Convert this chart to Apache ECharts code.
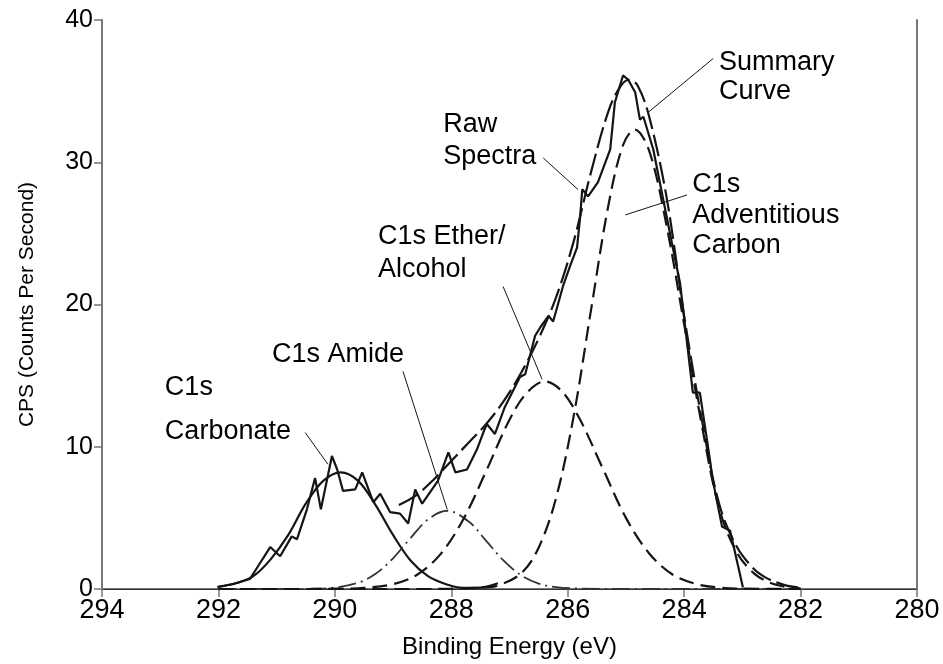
<!DOCTYPE html>
<html>
<head>
<meta charset="utf-8">
<script src="https://cdn.jsdelivr.net/npm/echarts@6/dist/echarts.min.js"></script>
<style>
  html, body { margin: 0; padding: 0; background: #fff; }
  #chart { width: 943px; height: 664px; }
</style>
</head>
<body>
<div id="chart"></div>
<script>
// Axis ranges (binding energy runs high -> low)
const xMin = 280, xMax = 294, xStep = 2;
const yMin = 0, yMax = 40, yStep = 10;

// Raw spectrum
const rawX = [292.02, 291.75, 291.46, 291.32, 291.11, 290.94, 290.74, 290.65, 290.48, 290.34, 290.24, 290.05, 289.96, 289.86, 289.65, 289.53, 289.34, 289.22, 289.05, 288.88, 288.74, 288.62, 288.5, 288.23, 288.05, 287.93, 287.73, 287.56, 287.45, 287.39, 287.25, 287.08, 286.82, 286.73, 286.56, 286.47, 286.33, 286.25, 286.08, 285.96, 285.84, 285.79, 285.75, 285.65, 285.48, 285.27, 285.19, 285.05, 284.96, 284.84, 284.76, 284.7, 284.53, 284.36, 284.19, 284.07, 283.85, 283.73, 283.55, 283.52, 283.35, 283.21, 282.99];
const rawY = [0.14, 0.35, 0.7, 1.6, 2.95, 2.3, 3.7, 3.5, 5.6, 7.8, 5.6, 9.35, 8.4, 6.9, 7.0, 8.2, 6.1, 6.7, 5.4, 5.3, 4.6, 7.0, 6.0, 7.6, 9.6, 8.2, 8.4, 9.8, 11.0, 11.6, 10.9, 12.8, 14.9, 15.1, 17.8, 18.4, 19.2, 18.8, 21.3, 22.7, 24.0, 26.0, 28.1, 27.6, 28.6, 30.9, 34.2, 36.1, 35.8, 34.9, 33.0, 33.2, 30.9, 27.4, 23.9, 21.5, 13.8, 13.8, 8.9, 7.9, 4.4, 4.1, 0.1];

// Summary (fitted envelope)
const sumX = [288.9, 288.6, 288.3, 288.0, 287.7, 287.4, 287.1, 286.8, 286.5, 286.2, 285.9, 285.6, 285.3, 285.1, 284.95, 284.8, 284.6, 284.3, 284.0, 283.7, 283.4, 283.1, 282.8, 282.6, 282.4, 282.2, 282.0];
const sumY = [5.9, 6.6, 7.7, 9.0, 10.3, 11.6, 13.2, 15.2, 17.6, 20.5, 24.4, 29.3, 33.6, 35.3, 35.8, 35.4, 33.2, 27.5, 19.2, 12.0, 6.0, 3.0, 1.4, 0.8, 0.45, 0.2, 0.1];

// C1s Carbonate component
const carbX = [292.0, 291.7, 291.4, 291.1, 290.8, 290.5, 290.2, 289.9, 289.6, 289.3, 289.0, 288.7, 288.4, 288.1, 287.8, 287.5, 287.2];
const carbY = [0.15, 0.4, 0.9, 2.1, 3.8, 6.0, 7.6, 8.2, 7.6, 5.9, 3.8, 2.0, 0.9, 0.35, 0.08, 0.1, 0.4];

// C1s Amide component
const amideX = [292.0, 291.0, 290.4, 290.0, 289.6, 289.3, 289.0, 288.7, 288.4, 288.07, 287.7, 287.4, 287.1, 286.8, 286.5, 286.2, 285.8, 285.0, 282.0];
const amideY = [0, 0, 0.02, 0.1, 0.44, 1.07, 2.16, 3.58, 4.89, 5.5, 4.74, 3.38, 1.99, 0.96, 0.38, 0.13, 0.03, 0, 0];

// C1s Ether/Alcohol component
const etherX = [292.0, 290.5, 290.0, 289.5, 289.0, 288.6, 288.2, 287.8, 287.4, 287.0, 286.7, 286.39, 286.1, 285.8, 285.4, 285.0, 284.6, 284.2, 283.8, 283.4, 283.0, 282.0];
const etherY = [0, 0, 0.02, 0.08, 0.34, 0.97, 2.38, 4.85, 8.3, 11.9, 13.8, 14.6, 13.9, 12.0, 8.5, 5.0, 2.5, 1.02, 0.36, 0.1, 0.03, 0];

// C1s Adventitious Carbon component
const advX = [292.0, 290.0, 288.5, 288.0, 287.5, 287.2, 286.8, 286.5, 286.2, 285.9, 285.6, 285.3, 285.05, 284.85, 284.6, 284.3, 284.0, 283.7, 283.4, 283.1, 282.8, 282.5, 282.2, 282.0];
const advY = [0, 0, 0, 0.02, 0.1, 0.25, 1.1, 2.9, 6.4, 12.1, 19.6, 27.0, 31.2, 32.3, 30.8, 25.5, 18.6, 11.6, 5.7, 2.6, 1.1, 0.4, 0.12, 0.05];

// Callout text lines: [left x, middle y, text]
const noteX = [292.92, 292.92, 291.08, 289.26, 289.26, 288.14, 288.14, 283.40, 283.40, 283.86, 283.86, 283.86];
const noteY = [14.18, 11.09, 16.49, 24.77, 22.46, 32.63, 30.39, 36.98, 34.95, 28.42, 26.25, 24.14];
const noteText = ['C1s', 'Carbonate', 'C1s Amide', 'C1s Ether/', 'Alcohol', 'Raw', 'Spectra', 'Summary', 'Curve', 'C1s', 'Adventitious', 'Carbon'];

// Leader lines from callouts to curves: [x1, y1, x2, y2]
const leaderX1 = [290.51, 288.83, 287.11, 286.42, 283.50, 283.95];
const leaderY1 = [11.0, 15.3, 21.26, 30.3, 37.3, 27.7];
const leaderX2 = [290.12, 288.07, 286.44, 285.82, 284.62, 285.01];
const leaderY2 = [8.77, 5.6, 14.74, 28.07, 33.5, 26.3];

const ink = '#151515';
const textInk = '#000';
const axisGray = '#777';
const sans = "'Liberation Sans', Arial, sans-serif";
const narrow = "'Liberation Sans Narrow', 'Arial Narrow', 'Liberation Sans', sans-serif";

const pairs = (xs, ys) => xs.map((x, i) => [x, ys[i]]);

function curve(name, xs, ys, dash, width, smooth, color) {
  return {
    name: name,
    type: 'line',
    data: pairs(xs, ys),
    showSymbol: false,
    smooth: smooth,
    silent: true,
    lineStyle: { color: color || ink, width: width, type: dash }
  };
}

const series = [
  curve('C1s Carbonate', carbX, carbY, 'solid', 2.2, 0.35),
  curve('C1s Amide', amideX, amideY, [18, 5, 2, 5], 1.8, 0.35, '#333'),
  curve('C1s Ether/Alcohol', etherX, etherY, [15, 7], 2.2, 0.35),
  curve('C1s Adventitious Carbon', advX, advY, [15, 7], 2.2, 0.35),
  curve('Summary Curve', sumX, sumY, [22, 6], 2.2, 0.35),
  curve('Raw Spectra', rawX, rawY, 'solid', 2.2, false)
];

leaderX1.forEach((x, i) => {
  series.push({
    type: 'line',
    data: [[x, leaderY1[i]], [leaderX2[i], leaderY2[i]]],
    showSymbol: false,
    silent: true,
    lineStyle: { color: ink, width: 1 }
  });
});

// Callout text, placed in data coordinates
series.push({
  type: 'scatter',
  symbolSize: 0,
  silent: true,
  itemStyle: { opacity: 1 },
  data: noteX.map((x, i) => ({ value: [x, noteY[i]], name: noteText[i] })),
  label: {
    show: true,
    position: 'right',
    distance: 0,
    align: 'left',
    verticalAlign: 'middle',
    formatter: p => p.name,
    color: textInk,
    opacity: 1,
    textBorderWidth: 0,
    fontFamily: sans,
    fontSize: 27
  }
});

const chart = echarts.init(document.getElementById('chart'), null, { renderer: 'canvas' });
chart.setOption({
  animation: false,
  backgroundColor: '#fff',
  grid: { left: 102, right: 26, top: 20, bottom: 74, containLabel: false },
  xAxis: [{
    type: 'value',
    min: xMin, max: xMax, interval: xStep,
    inverse: true,
    name: 'Binding Energy (eV)',
    nameLocation: 'middle',
    nameGap: 46,
    nameTextStyle: { color: textInk, fontFamily: narrow, fontSize: 24 },
    axisLine: { show: true, onZero: false, lineStyle: { color: axisGray, width: 2 } },
    axisTick: { show: true, length: 8, lineStyle: { color: axisGray, width: 1.5 } },
    axisLabel: { color: textInk, fontFamily: narrow, fontSize: 27, margin: 8 },
    splitLine: { show: false }
  }, {
    type: 'value',
    position: 'top',
    min: xMin, max: xMax,
    inverse: true,
    axisLine: { show: true, lineStyle: { color: '#333', width: 1.2 } },
    axisTick: { show: false },
    axisLabel: { show: false },
    splitLine: { show: false }
  }],
  yAxis: [{
    type: 'value',
    min: yMin, max: yMax, interval: yStep,
    name: 'CPS (Counts Per Second)',
    nameLocation: 'middle',
    nameGap: 64,
    nameTextStyle: { color: textInk, fontFamily: sans, fontSize: 21 },
    axisLine: { show: true, lineStyle: { color: axisGray, width: 2 } },
    axisTick: { show: true, length: 8, lineStyle: { color: axisGray, width: 1.5 } },
    axisLabel: { color: textInk, fontFamily: sans, fontSize: 25, margin: 9 },
    splitLine: { show: false }
  }, {
    type: 'value',
    position: 'right',
    min: yMin, max: yMax,
    axisLine: { show: true, lineStyle: { color: axisGray, width: 2 } },
    axisTick: { show: false },
    axisLabel: { show: false },
    splitLine: { show: false }
  }],
  series: series
});
</script>
</body>
</html>
